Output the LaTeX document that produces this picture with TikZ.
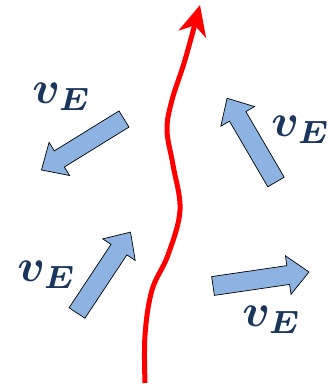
\documentclass[tikz,border=0pt]{standalone}
\usepackage{bm}
\usetikzlibrary{arrows.meta}
\definecolor{arrblue}{HTML}{8DB3E2}
\definecolor{navy}{HTML}{1B365D}
\definecolor{pathred}{HTML}{FF0000}
\tikzset{
  blockarrow/.style={fill=arrblue, draw=black, line width=0.7pt, line join=miter},
  velabel/.style={text=navy, inner sep=0pt, scale=4.6, transform shape},
  redpath/.style={draw=pathred, line width=5pt, -{Stealth[length=30pt, width=28pt, inset=9pt]}}
}
\newcommand{\blockarr}[3]{%
  \draw[blockarrow, shift={(#1,#2)}, rotate=#3]
    (0,-9.5) -- (76,-9.5) -- (76,-19.5) -- (97,0) -- (76,19.5) -- (76,9.5) -- (0,9.5) -- cycle;}
\begin{document}
\begin{tikzpicture}[x=1pt, y=-1pt]
\useasboundingbox (0,0) rectangle (336,388);
% blue arrows (tail centre, direction)
\blockarr{124}{119}{211.7}
\blockarr{276}{182}{120.3}
\blockarr{77}{313}{56.5}
\blockarr{213}{286}{8.3}
% labels
\node[velabel] (l1) at (62,97) {$\bm{v}_{\bm{E}}$};
\node[velabel] (l2) at (301,130) {$\bm{v}_{\bm{E}}$};
\node[velabel] (l3) at (47,275) {$\bm{v}_{\bm{E}}$};
\node[velabel] (l4) at (272,320) {$\bm{v}_{\bm{E}}$};
% red wavy path
\draw[redpath] plot[smooth, tension=0.6] coordinates {(145,383) (145,335) (152,290) (168,255) (180,210) (173,165) (167,130) (172,100) (185,60) (200,5)};
\end{tikzpicture}
\end{document}
